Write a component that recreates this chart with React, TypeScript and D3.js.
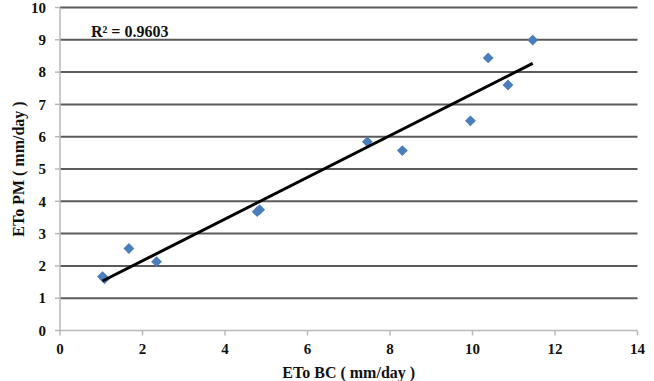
import React from "react";
import * as d3 from "d3";

const etoBC = [1.03, 1.08, 1.67, 2.34, 4.78, 4.84, 7.45, 8.3, 9.95, 10.38, 10.86, 11.46];
const etoPM = [1.67, 1.6, 2.54, 2.13, 3.68, 3.74, 5.84, 5.57, 6.49, 8.44, 7.6, 8.99];
const xTicks = [0, 2, 4, 6, 8, 10, 12, 14];
const yTicks = [0, 1, 2, 3, 4, 5, 6, 7, 8, 9, 10];
const r2Label = "R² = 0.9603";
const xTitle = "ETo BC ( mm/day )";
const yTitle = "ETo PM ( mm/day )";

const W = 654;
const H = 381;
const left = 60;
const right = 637.5;
const top = 7.5;
const bottom = 330.5;

export default function App() {
  const x = d3.scaleLinear().domain([0, 14]).range([left, right]);
  const y = d3.scaleLinear().domain([0, 10]).range([bottom, top]);

  const mx = d3.mean(etoBC)!;
  const my = d3.mean(etoPM)!;
  let sxy = 0, sxx = 0;
  etoBC.forEach((v, i) => {
    sxy += (v - mx) * (etoPM[i] - my);
    sxx += (v - mx) * (v - mx);
  });
  const slope = sxy / sxx;
  const intercept = my - slope * mx;
  const [x0, x1] = d3.extent(etoBC) as [number, number];
  const trend = d3.line<number>().x((d) => x(d)).y((d) => y(intercept + slope * d));
  const diamond = d3.symbol().type(d3.symbolDiamond2).size(75)()!;

  const font = "'Liberation Serif', 'Times New Roman', serif";

  return (
    <svg width={W} height={H} style={{ position: "absolute", left: 0, top: 0 }}>
      <rect width={W} height={H} fill="#fff" />
      {yTicks.filter((t) => t > 0).map((t) => (
        <line key={"g" + t} x1={left} x2={right} y1={y(t)} y2={y(t)} stroke="#5a5a5a" strokeWidth={2} />
      ))}
      <line x1={left} x2={left} y1={top} y2={bottom} stroke="#b8b8b8" strokeWidth={1.5} />
      <line x1={left} x2={right} y1={bottom} y2={bottom} stroke="#b8b8b8" strokeWidth={1.5} />
      {yTicks.map((t) => (
        <g key={"y" + t}>
          <line x1={left - 5} x2={left} y1={y(t)} y2={y(t)} stroke="#b8b8b8" strokeWidth={1.5} />
          <text x={46} y={y(t)} dy="0.35em" textAnchor="end" fontFamily={font} fontWeight="bold" fontSize={15} fill="#111">
            {t}
          </text>
        </g>
      ))}
      {xTicks.map((t) => (
        <g key={"x" + t}>
          <line x1={x(t)} x2={x(t)} y1={bottom} y2={bottom + 5} stroke="#b8b8b8" strokeWidth={1.5} />
          <text x={x(t)} y={349} dy="0.35em" textAnchor="middle" fontFamily={font} fontWeight="bold" fontSize={15} fill="#111">
            {t}
          </text>
        </g>
      ))}
      {etoBC.map((v, i) => (
        <path key={"p" + i} d={diamond} transform={`translate(${x(v)},${y(etoPM[i])})`} fill="#4a7ebb" />
      ))}
      <path d={trend([x0, x1])!} stroke="#000" strokeWidth={3} fill="none" />
      <text x={91} y={31.5} dy="0.35em" fontFamily={font} fontWeight="bold" fontSize={16} fill="#111">
        {r2Label}
      </text>
      <text x={(left + right) / 2} y={372} dy="0.35em" textAnchor="middle" fontFamily={font} fontWeight="bold" fontSize={16} fill="#111">
        {xTitle}
      </text>
      <text transform={`translate(18,${(top + bottom) / 2}) rotate(-90)`} dy="0.35em" textAnchor="middle" fontFamily={font} fontWeight="bold" fontSize={16} fill="#111">
        {yTitle}
      </text>
    </svg>
  );
}
